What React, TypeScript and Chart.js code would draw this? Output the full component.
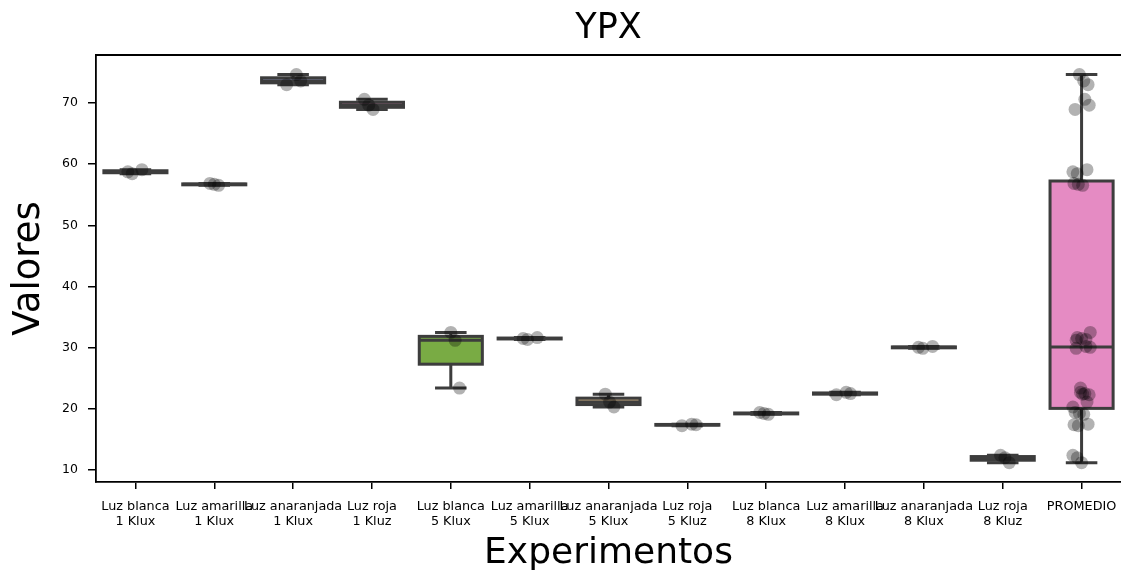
import React, { useEffect, useRef } from "react";
import { Chart, registerables } from "chart.js";

Chart.register(...registerables);

const TITLE = "YPX";
const X_TITLE = "Experimentos";
const Y_TITLE = "Valores";
const FONT = "'DejaVu Sans', 'Liberation Sans', sans-serif";

// Tick labels of the x axis (one array per category, one entry per line)
const CATEGORIES: string[][] = [
  ["Luz blanca", "1 Klux"],
  ["Luz amarilla", "1 Klux"],
  ["Luz anaranjada", "1 Klux"],
  ["Luz roja", "1 Kluz"],
  ["Luz blanca", "5 Klux"],
  ["Luz amarilla", "5 Klux"],
  ["Luz anaranjada", "5 Klux"],
  ["Luz roja", "5 Kluz"],
  ["Luz blanca", "8 Klux"],
  ["Luz amarilla", "8 Klux"],
  ["Luz anaranjada", "8 Klux"],
  ["Luz roja", "8 Kluz"],
  ["PROMEDIO"],
];

// Measured values per experiment
const BLANCA_1K = [58.45, 58.75, 59.1];
const AMARILLA_1K = [56.55, 56.7, 56.85];
const ANARANJADA_1K = [73.0, 73.6, 74.65];
const ROJA_1K = [68.95, 69.65, 70.6];
const BLANCA_5K = [23.4, 31.2, 32.5];
const AMARILLA_5K = [31.35, 31.5, 31.65];
const ANARANJADA_5K = [20.3, 21.1, 22.4];
const ROJA_5K = [17.25, 17.4, 17.5];
const BLANCA_8K = [19.1, 19.25, 19.4];
const AMARILLA_8K = [22.3, 22.5, 22.7];
const ANARANJADA_8K = [29.9, 30.05, 30.2];
const ROJA_8K = [11.2, 12.0, 12.4];

const EXPERIMENTS = [
  BLANCA_1K, AMARILLA_1K, ANARANJADA_1K, ROJA_1K,
  BLANCA_5K, AMARILLA_5K, ANARANJADA_5K, ROJA_5K,
  BLANCA_8K, AMARILLA_8K, ANARANJADA_8K, ROJA_8K,
];
// PROMEDIO pools every measurement
const PROMEDIO = EXPERIMENTS.flat();
const SERIES = [...EXPERIMENTS, PROMEDIO];

const BOX_COLORS = [
  "#5fa58e", "#d98451", "#8a92b8", "#d67fb0",
  "#79ab44", "#d6b84a", "#c4a97f", "#a6a6a6",
  "#6fb59c", "#e49468", "#8f9cc4", "#c985b3",
  "#e58bc3",
];
const EDGE = "#3d3d3d";

const Y_TICKS = [10, 20, 30, 40, 50, 60, 70];
const Y_MIN = 8.04;
const Y_MAX = 77.85;

type Stats = { q1: number; med: number; q3: number; lo: number; hi: number };

function quantile(sorted: number[], p: number): number {
  const pos = (sorted.length - 1) * p;
  const lo = Math.floor(pos);
  const hi = Math.ceil(pos);
  return sorted[lo] + (sorted[hi] - sorted[lo]) * (pos - lo);
}

function boxStats(values: number[]): Stats {
  const s = [...values].sort((a, b) => a - b);
  const q1 = quantile(s, 0.25);
  const med = quantile(s, 0.5);
  const q3 = quantile(s, 0.75);
  const iqr = q3 - q1;
  const lo = s.find((v) => v >= q1 - 1.5 * iqr) ?? s[0];
  const hi = [...s].reverse().find((v) => v <= q3 + 1.5 * iqr) ?? s[s.length - 1];
  return { q1, med, q3, lo, hi };
}

// Deterministic horizontal spread for the strip points
function jitter(i: number, j: number): number {
  return ((((i * 7 + j * 13 + 5) % 17) / 16) - 0.5) * 0.22;
}

const boxPlugin = {
  id: "boxes",
  beforeDatasetsDraw(chart: any) {
    const { ctx } = chart;
    const x = chart.scales.x;
    const y = chart.scales.y;
    ctx.save();
    ctx.lineWidth = 3;
    ctx.strokeStyle = EDGE;
    ctx.lineCap = "butt";
    SERIES.forEach((vals, i) => {
      const st = boxStats(vals);
      const xl = x.getPixelForValue(i - 0.4);
      const xr = x.getPixelForValue(i + 0.4);
      const xc = x.getPixelForValue(i);
      const cl = x.getPixelForValue(i - 0.2);
      const cr = x.getPixelForValue(i + 0.2);
      const yq1 = y.getPixelForValue(st.q1);
      const yq3 = y.getPixelForValue(st.q3);
      const ymed = y.getPixelForValue(st.med);
      const ylo = y.getPixelForValue(st.lo);
      const yhi = y.getPixelForValue(st.hi);
      // box
      ctx.fillStyle = BOX_COLORS[i];
      ctx.fillRect(xl, yq3, xr - xl, yq1 - yq3);
      ctx.strokeRect(xl, yq3, xr - xl, yq1 - yq3);
      // whiskers and caps
      ctx.beginPath();
      ctx.moveTo(xc, yq3);
      ctx.lineTo(xc, yhi);
      ctx.moveTo(xc, yq1);
      ctx.lineTo(xc, ylo);
      ctx.moveTo(cl, yhi);
      ctx.lineTo(cr, yhi);
      ctx.moveTo(cl, ylo);
      ctx.lineTo(cr, ylo);
      // median
      ctx.moveTo(xl, ymed);
      ctx.lineTo(xr, ymed);
      ctx.stroke();
    });
    ctx.restore();
  },
  afterDraw(chart: any) {
    const { ctx, chartArea } = chart;
    ctx.save();
    // top spine
    ctx.strokeStyle = "#000";
    ctx.lineWidth = 1.8;
    ctx.beginPath();
    ctx.moveTo(chartArea.left - 0.9, chartArea.top);
    ctx.lineTo(chartArea.right, chartArea.top);
    ctx.stroke();
    // title
    ctx.fillStyle = "#000";
    ctx.font = `35px ${FONT}`;
    ctx.textAlign = "center";
    ctx.textBaseline = "alphabetic";
    ctx.fillText(TITLE, (chartArea.left + chartArea.right) / 2, 38);
    ctx.restore();
  },
};

export default function App() {
  const ref = useRef<HTMLCanvasElement | null>(null);

  useEffect(() => {
    if (!ref.current) return;
    const points = SERIES.map((vals, i) =>
      vals.map((v, j) => ({ x: i + jitter(i, j), y: v }))
    ).flat();

    const chart = new Chart(ref.current, {
      type: "scatter",
      data: {
        datasets: [
          {
            data: points,
            pointRadius: 6.5,
            pointHoverRadius: 6.5,
            backgroundColor: "rgba(0,0,0,0.3)",
            borderWidth: 0,
          },
        ],
      },
      options: {
        animation: false,
        responsive: false,
        devicePixelRatio: 1,
        layout: { autoPadding: false, padding: { top: 55, left: 0, right: 0, bottom: 0 } },
        plugins: {
          legend: { display: false },
          title: { display: false },
          tooltip: { enabled: false },
        },
        scales: {
          x: {
            type: "linear",
            min: -0.5,
            max: CATEGORIES.length - 0.5,
            afterBuildTicks: (s: any) => {
              s.ticks = CATEGORIES.map((_, i) => ({ value: i }));
            },
            afterFit: (s: any) => {
              s.height = 93;
              s.paddingLeft = 0;
              s.paddingRight = 0;
            },
            ticks: {
              autoSkip: false,
              maxRotation: 0,
              minRotation: 0,
              padding: 10,
              color: "#000",
              font: { family: FONT, size: 12.8, lineHeight: 1.2 },
              callback: (_v: any, idx: number) => CATEGORIES[idx],
            },
            grid: {
              display: true,
              drawOnChartArea: false,
              drawTicks: true,
              tickLength: 7,
              color: "#000",
              lineWidth: 1.5,
            },
            border: { display: true, color: "#000", width: 1.8 },
            title: {
              display: true,
              text: X_TITLE,
              color: "#000",
              font: { family: FONT, size: 36, lineHeight: 1.2 },
              padding: { top: 0, bottom: 0 },
            },
          },
          y: {
            type: "linear",
            min: Y_MIN,
            max: Y_MAX,
            afterBuildTicks: (s: any) => {
              s.ticks = Y_TICKS.map((v) => ({ value: v }));
            },
            afterFit: (s: any) => {
              s.width = 96;
              s.paddingTop = 0;
              s.paddingBottom = 0;
            },
            ticks: {
              padding: 10,
              color: "#000",
              font: { family: FONT, size: 12.5 },
            },
            grid: {
              display: true,
              drawOnChartArea: false,
              drawTicks: true,
              tickLength: 8,
              color: "#000",
              lineWidth: 1.5,
            },
            border: { display: true, color: "#000", width: 1.8 },
            title: {
              display: true,
              text: Y_TITLE,
              color: "#000",
              font: { family: FONT, size: 37, lineHeight: 1.2 },
              padding: { top: 7, bottom: 0 },
            },
          },
        },
      },
      plugins: [boxPlugin],
    } as any);

    return () => chart.destroy();
  }, []);

  return (
    <div
      style={{
        position: "fixed",
        left: 0,
        top: 0,
        width: 1121,
        height: 575,
        background: "#fff",
      }}
    >
      <canvas
        ref={ref}
        width={1121}
        height={575}
        style={{ display: "block", width: 1121, height: 575 }}
      />
    </div>
  );
}
